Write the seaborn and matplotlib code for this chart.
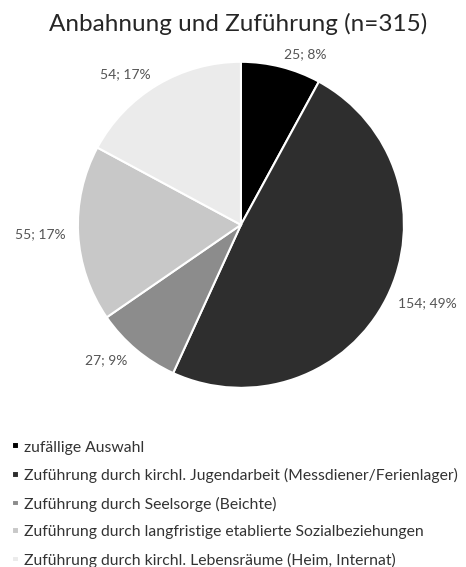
import matplotlib
matplotlib.use('Agg')
import matplotlib.pyplot as plt
import seaborn as sns

# Data
categories = [
    'zufällige Auswahl',
    'Zuführung durch kirchl. Jugendarbeit (Messdiener/Ferienlager)',
    'Zuführung durch Seelsorge (Beichte)',
    'Zuführung durch langfristige etablierte Sozialbeziehungen',
    'Zuführung durch kirchl. Lebensräume (Heim, Internat)',
]
counts = [25, 154, 27, 55, 54]
percents = [8, 49, 9, 17, 17]
colors = ['#000000', '#2e2e2e', '#8c8c8c', '#c8c8c8', '#ebebeb']

sns.set_theme(style='white')
plt.rcParams['font.family'] = ['Lato', 'DejaVu Sans']

fig = plt.figure(figsize=(4.66, 5.67), dpi=100)
ax = fig.add_axes([0.167, 0.316, 0.70, 0.575])

labels = [f'{c}; {p}%' for c, p in zip(counts, percents)]
wedges, texts = ax.pie(counts, labels=labels, colors=colors, startangle=90,
                       counterclock=False, labeldistance=1.08,
                       wedgeprops=dict(edgecolor='white', linewidth=1.5),
                       textprops=dict(fontsize=10, color='#555555'))
ax.set_xlim(-1, 1)
ax.set_ylim(-1, 1)
ax.set_aspect('equal')

fig.suptitle('Anbahnung und Zuführung (n=315)', x=0.51, y=0.957, va='center',
             fontsize=17.5, color='#262626')

fig.legend(wedges, categories, loc='upper left', bbox_to_anchor=(-0.005, 0.248),
           frameon=False, fontsize=11.3, labelcolor='#333333', handlelength=0.45,
           handleheight=0.3, handletextpad=0.35, labelspacing=0.86)

fig.savefig('out.png', dpi=100)
